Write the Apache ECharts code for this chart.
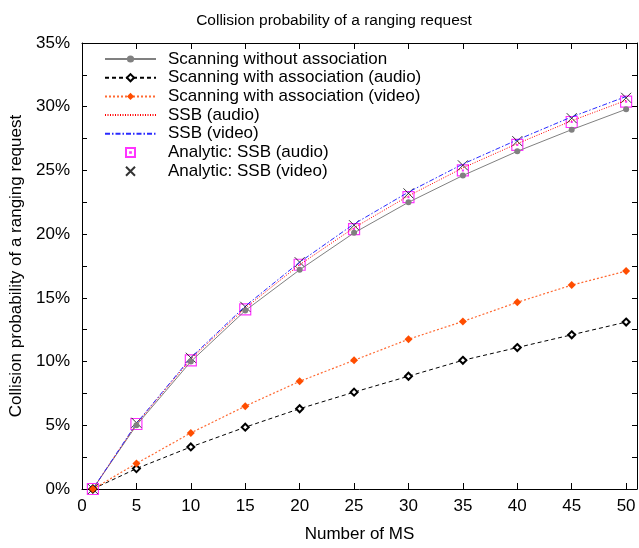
<!DOCTYPE html>
<html>
<head>
<meta charset="utf-8">
<script src="https://cdn.jsdelivr.net/npm/echarts@6/dist/echarts.min.js"></script>
<style>html,body{margin:0;padding:0;background:#fff}#c{width:639px;height:548px}</style>
</head>
<body>
<div id="c"></div>
<script>
var xValues = [1, 5, 10, 15, 20, 25, 30, 35, 40, 45, 50];
var scanNoAssoc = [0, 5.0, 10.0, 14.0, 17.2, 20.1, 22.5, 24.6, 26.5, 28.2, 29.8];
var scanAssocAudio = [0, 1.6, 3.3, 4.85, 6.3, 7.6, 8.85, 10.1, 11.1, 12.1, 13.1];
var scanAssocVideo = [0, 2.0, 4.4, 6.5, 8.45, 10.1, 11.75, 13.15, 14.65, 16.0, 17.1];
var ssbAudio = [0, 5.1, 10.2, 14.2, 17.6, 20.5, 23.0, 25.2, 27.1, 28.9, 30.5];
var ssbVideo = [0, 5.15, 10.3, 14.35, 17.8, 20.8, 23.3, 25.5, 27.4, 29.2, 30.8];
var analyticAudio = [0, 5.1, 10.1, 14.1, 17.6, 20.4, 22.9, 25.0, 27.0, 28.8, 30.4];
var analyticVideo = [0, 5.2, 10.3, 14.3, 17.8, 20.7, 23.2, 25.4, 27.3, 29.1, 30.7];
var seriesNames = ['Scanning without association', 'Scanning with association (audio)', 'Scanning with association (video)', 'SSB (audio)', 'SSB (video)', 'Analytic: SSB (audio)', 'Analytic: SSB (video)'];
var titleText = 'Collision probability of a ranging request';
var xName = 'Number of MS';
var yName = 'Collision probability of a ranging request';

function pairs(ys) { return xValues.map(function (x, i) { return [x, ys[i]]; }); }

var FONT = 'Liberation Sans';
var chart = echarts.init(document.getElementById('c'), null, { renderer: 'canvas' });

var axisCommon = {
  axisLine: { show: true, onZero: false, lineStyle: { color: '#000', width: 1 } },
  axisTick: { show: true, inside: true, length: 6, lineStyle: { color: '#000' } },
  splitLine: { show: false }
};

var legendData = seriesNames.map(function (n, i) {
  if (i === 3 || i === 4) return { name: n, itemStyle: { opacity: 0 } };
  return { name: n };
});

function xFmt(v) { return (v % 5 === 0) ? String(v) : ''; }
function yFmt(v) { return (Math.round(v * 10) % 50 === 0) ? v + '%' : ''; }

var option = {
  backgroundColor: '#fff',
  animation: false,
  title: {
    text: titleText, left: 329, top: 8, textAlign: 'center',
    textStyle: { fontFamily: FONT, fontSize: 15.5, fontWeight: 'normal', color: '#000' }
  },
  grid: { left: 82, right: 2, top: 43, bottom: 58, containLabel: false },
  legend: {
    orient: 'vertical', left: 99, top: 45,
    itemWidth: 51, itemHeight: 9, itemGap: 0.7,
    data: legendData,
    textStyle: { fontFamily: FONT, fontSize: 17, color: '#000', lineHeight: 18, padding: [0, 0, 0, 7] }
  },
  xAxis: [
    Object.assign({}, axisCommon, {
      type: 'value', min: 0, max: 51, interval: 5, position: 'bottom',
      name: xName, nameLocation: 'middle', nameGap: 37,
      nameTextStyle: { fontFamily: FONT, fontSize: 17, color: '#000' },
      axisLabel: { margin: 9, fontFamily: FONT, fontSize: 17, color: '#000', formatter: xFmt, showMaxLabel: false }
    }),
    Object.assign({}, axisCommon, {
      type: 'value', min: 0, max: 51, interval: 5, position: 'top',
      axisLabel: { show: false }
    })
  ],
  yAxis: [
    Object.assign({}, axisCommon, {
      type: 'value', min: 0, max: 35, interval: 2.5, position: 'left',
      name: yName, nameLocation: 'middle', nameGap: 55, nameRotate: 90,
      nameTextStyle: { fontFamily: FONT, fontSize: 17, color: '#000' },
      axisTick: { show: true, inside: true, length: 5, lineStyle: { color: '#000' } },
      axisLabel: { margin: 12, fontFamily: FONT, fontSize: 17, color: '#000', formatter: yFmt }
    }),
    Object.assign({}, axisCommon, {
      type: 'value', min: 0, max: 35, interval: 2.5, position: 'right',
      axisTick: { show: true, inside: true, length: 5, lineStyle: { color: '#000' } },
      axisLabel: { show: false }
    })
  ],
  series: [
    {
      name: seriesNames[0], type: 'line', data: pairs(scanNoAssoc),
      symbol: 'circle', symbolSize: 6, showAllSymbol: true,
      lineStyle: { color: '#808080', width: 1 }, itemStyle: { color: '#808080' }
    },
    {
      name: seriesNames[1], type: 'line', data: pairs(scanAssocAudio),
      symbol: 'emptyDiamond', symbolSize: 7,
      lineStyle: { color: '#000', width: 1, type: [4, 3] },
      itemStyle: { color: '#000', borderColor: '#000', borderWidth: 1 }
    },
    {
      name: seriesNames[2], type: 'line', data: pairs(scanAssocVideo),
      symbol: 'diamond', symbolSize: 8,
      lineStyle: { color: '#ff6a33', width: 1.2, type: [2, 2] },
      itemStyle: { color: '#ff4d00' }
    },
    {
      name: seriesNames[3], type: 'line', data: pairs(ssbAudio),
      symbol: 'none',
      lineStyle: { color: '#ff0000', width: 1, type: [1, 1.5] },
      itemStyle: { color: '#ff0000' }
    },
    {
      name: seriesNames[4], type: 'line', data: pairs(ssbVideo),
      symbol: 'none',
      lineStyle: { color: '#2a2aff', width: 1, type: [5, 2, 1.5, 2] },
      itemStyle: { color: '#2a2aff' }
    },
    {
      name: seriesNames[5], type: 'scatter', data: pairs(analyticAudio),
      symbol: 'path://M0,0L10,0L10,10L0,10Z M4.6,4.6L5.4,4.6L5.4,5.4L4.6,5.4Z', symbolSize: 11,
      itemStyle: { color: 'rgba(0,0,0,0)', borderColor: '#ff00ff', borderWidth: 1.2 }
    },
    {
      name: seriesNames[6], type: 'scatter', data: pairs(analyticVideo),
      symbol: 'path://M0,0L10,10M10,0L0,10', symbolSize: 10,
      itemStyle: { color: 'rgba(0,0,0,0)', borderColor: '#000', borderWidth: 1 }
    }
  ]
};
chart.setOption(option);
</script>
</body>
</html>
